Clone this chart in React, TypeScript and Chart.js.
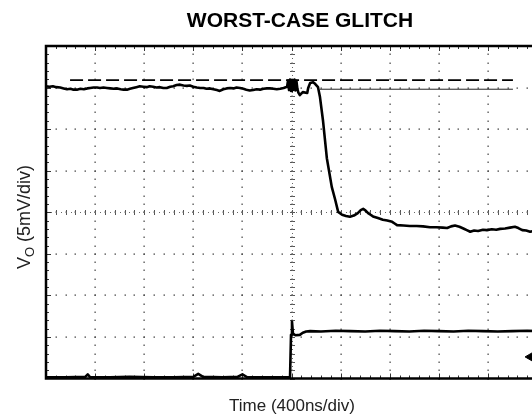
import { useEffect, useRef } from "react";
import { Chart, registerables } from "chart.js";

Chart.register(...registerables);

// ---- text ----
const TITLE = "WORST-CASE GLITCH";
const X_LABEL = "Time (400ns/div)";
const Y_LABEL_MAIN = "V";
const Y_LABEL_SUB = "O";
const Y_LABEL_REST = " (5mV/div)";

// ---- scope grid (divisions) ----
const X_DIVS = 10;
const Y_DIVS = 8;
const MINOR_PER_DIV = 5;

// ---- output trace (top, in divisions) ----
const outX = [
  0.0, 0.07, 0.14, 0.21, 0.29, 0.36, 0.43, 0.5, 0.56, 0.63, 0.7, 0.77, 0.84, 0.9, 0.97,
  1.04, 1.1, 1.17, 1.24, 1.31, 1.38, 1.45, 1.52, 1.58, 1.65, 1.71, 1.77, 1.84, 1.91, 1.98,
  2.05, 2.11, 2.18, 2.25, 2.32, 2.39, 2.46, 2.53, 2.59, 2.66, 2.73, 2.8, 2.87, 2.93, 3.0,
  3.07, 3.14, 3.21, 3.27, 3.34, 3.41, 3.48, 3.54, 3.61, 3.68, 3.75, 3.82, 3.88, 3.95, 4.02,
  4.08, 4.15, 4.22, 4.29, 4.36, 4.43, 4.5, 4.56, 4.63, 4.7, 4.77, 4.84, 4.91,
  4.93, 4.95, 4.97, 4.99, 5.01, 5.04, 5.06, 5.08, 5.1, 5.12, 5.14, 5.17, 5.23, 5.32, 5.34,
  5.38, 5.44, 5.48, 5.54, 5.58, 5.64, 5.72, 5.82, 5.89, 5.95, 6.03, 6.11, 6.19, 6.27, 6.35,
  6.41, 6.46, 6.51, 6.56, 6.61, 6.66, 6.76, 6.86, 6.95, 7.05, 7.1, 7.15, 7.28, 7.41, 7.55,
  7.68, 7.82, 7.95, 8.08, 8.17, 8.25, 8.33, 8.42, 8.5, 8.57, 8.64, 8.72, 8.8, 8.9, 8.98,
  9.08, 9.17, 9.25, 9.35, 9.45, 9.55, 9.62, 9.7, 9.78, 9.86, 9.93, 10.0,
];
const outY = [
  7.03, 7.02, 7.03, 7.01, 7.0, 6.98, 6.96, 6.97, 6.95, 6.95, 6.97, 6.96, 6.98, 6.99, 7.0,
  7.0, 6.99, 7.0, 6.99, 6.98, 6.97, 6.98, 6.96, 6.95, 6.95, 6.97, 6.99, 7.01, 7.03, 7.02,
  7.01, 7.03, 7.02, 7.0, 7.01, 6.99, 6.99, 7.02, 7.03, 7.06, 7.07, 7.05, 7.04, 7.05, 7.02,
  7.0, 6.99, 6.99, 6.97, 6.98, 6.96, 6.94, 6.92, 6.96, 6.98, 6.99, 6.98, 7.0, 6.99, 6.97,
  6.95, 6.93, 6.94, 6.96, 6.95, 6.97, 6.98, 6.98, 6.97, 6.96, 6.97, 6.99, 7.02,
  7.17, 6.94, 7.19, 6.92, 7.18, 6.95, 7.19, 6.93, 7.16, 6.97, 6.88, 6.82, 6.89, 6.87, 6.99,
  7.11, 7.13, 7.09, 7.01, 6.77, 6.22, 5.3, 4.61, 4.3, 4.01, 3.94, 3.91, 3.89, 3.92, 3.98,
  4.05, 4.08, 4.04, 3.98, 3.94, 3.9, 3.86, 3.82, 3.8, 3.77, 3.73, 3.69, 3.68, 3.67, 3.67,
  3.66, 3.64, 3.64, 3.63, 3.62, 3.66, 3.68, 3.65, 3.61, 3.57, 3.53, 3.56, 3.55, 3.58, 3.57,
  3.59, 3.58, 3.6, 3.61, 3.63, 3.65, 3.62, 3.57, 3.56, 3.53, 3.55, 3.55,
];

// ---- step trace (bottom, in divisions) ----
const stepX = [
  0.0, 0.4, 0.8, 0.85, 0.9, 1.3, 1.7, 2.2, 2.6, 3.0, 3.1, 3.2, 3.6, 3.9, 4.0, 4.1, 4.5, 4.97,
  4.99, 5.01, 5.03, 5.08, 5.17, 5.23, 5.3, 5.38, 5.6, 5.9, 6.2, 6.5, 6.8, 7.1, 7.4, 7.7, 8.0,
  8.3, 8.6, 8.9, 9.2, 9.5, 9.8, 10.0,
];
const stepY = [
  0.03, 0.03, 0.04, 0.1, 0.03, 0.03, 0.04, 0.03, 0.03, 0.04, 0.11, 0.04, 0.03, 0.04, 0.1, 0.03, 0.03, 0.03,
  1.05, 1.37, 1.08, 1.04, 1.05, 1.1, 1.13, 1.14, 1.13, 1.15, 1.14, 1.13, 1.15, 1.14, 1.13, 1.15, 1.14,
  1.13, 1.15, 1.14, 1.13, 1.14, 1.15, 1.14,
];

// ---- reference lines ----
const dashRefX = [0.49, 9.51];
const dashRefY = [7.18, 7.18];
const thinRefX = [5.58, 9.51];
const thinRefY = [6.96, 6.96];

// ---- ground marker ----
const markerX = [9.88];
const markerY = [0.52];

const FONT = '"Liberation Sans", Arial, Helvetica, sans-serif';

const toPts = (xs: number[], ys: number[]) => xs.map((x, i) => ({ x, y: ys[i] }));

const scopeGrid = {
  id: "scopeGrid",
  beforeDatasetsDraw(chart: any) {
    const { ctx, chartArea: a, scales } = chart;
    const x = scales.x;
    const y = scales.y;
    ctx.save();
    ctx.fillStyle = "#444";
    const nMinorY = Y_DIVS * MINOR_PER_DIV;
    const nMinorX = X_DIVS * MINOR_PER_DIV;
    // dotted division lines
    for (let i = 1; i < X_DIVS; i++) {
      const px = Math.round(x.getPixelForValue(i));
      for (let k = 0; k <= nMinorY; k++) {
        const py = Math.round(y.getPixelForValue(k / MINOR_PER_DIV));
        ctx.fillRect(px - 0.5, py - 0.5, 1.2, 1.5);
      }
    }
    for (let j = 1; j < Y_DIVS; j++) {
      const py = Math.round(y.getPixelForValue(j));
      for (let k = 0; k <= nMinorX; k++) {
        const px = Math.round(x.getPixelForValue(k / MINOR_PER_DIV));
        ctx.fillRect(px - 0.5, py - 0.5, 1.5, 1.2);
      }
    }
    // centre cross with minor ticks
    ctx.strokeStyle = "#555";
    ctx.lineWidth = 1;
    const cx = Math.round(x.getPixelForValue(X_DIVS / 2)) + 0.5;
    const cy = Math.round(y.getPixelForValue(Y_DIVS / 2)) + 0.5;
    ctx.beginPath();
    for (let k = 0; k <= nMinorY; k++) {
      const py = Math.round(y.getPixelForValue(k / MINOR_PER_DIV)) + 0.5;
      ctx.moveTo(cx - 2.5, py);
      ctx.lineTo(cx + 2.5, py);
    }
    for (let k = 0; k <= nMinorX; k++) {
      const px = Math.round(x.getPixelForValue(k / MINOR_PER_DIV)) + 0.5;
      ctx.moveTo(px, cy - 2.5);
      ctx.lineTo(px, cy + 2.5);
    }
    ctx.stroke();
    ctx.fillStyle = "#666";
    for (let k = 0; k < nMinorY * 2; k++) {
      const py = Math.round(y.getPixelForValue(k / (MINOR_PER_DIV * 2)));
      ctx.fillRect(cx - 0.5, py, 1, 1);
    }
    for (let k = 0; k < nMinorX * 2; k++) {
      const px = Math.round(x.getPixelForValue(k / (MINOR_PER_DIV * 2)));
      ctx.fillRect(px, cy - 0.5, 1, 1);
    }
    // frame ticks
    ctx.strokeStyle = "#333";
    ctx.beginPath();
    for (let k = 1; k < nMinorX; k++) {
      const px = Math.round(x.getPixelForValue(k / MINOR_PER_DIV)) + 0.5;
      const len = k % MINOR_PER_DIV === 0 ? 5 : 3;
      ctx.moveTo(px, a.top);
      ctx.lineTo(px, a.top + len);
      ctx.moveTo(px, a.bottom);
      ctx.lineTo(px, a.bottom - len);
    }
    for (let k = 1; k < nMinorY; k++) {
      const py = Math.round(y.getPixelForValue(k / MINOR_PER_DIV)) + 0.5;
      const len = k % MINOR_PER_DIV === 0 ? 5 : 3;
      ctx.moveTo(a.left, py);
      ctx.lineTo(a.left + len, py);
    }
    ctx.stroke();
    ctx.restore();
  },
  afterDatasetsDraw(chart: any) {
    const { ctx, chartArea: a } = chart;
    ctx.save();
    ctx.strokeStyle = "#000";
    ctx.lineWidth = 2.5;
    ctx.strokeRect(a.left, a.top, a.right - a.left, a.bottom - a.top);
    ctx.restore();
  },
  afterDraw(chart: any) {
    const { ctx } = chart;
    ctx.save();
    ctx.fillStyle = "#000";
    ctx.textBaseline = "alphabetic";
    ctx.textAlign = "center";
    ctx.font = `bold 21px ${FONT}`;
    ctx.fillText(TITLE, 300, 27);
    ctx.fillStyle = "#222";
    ctx.font = `17px ${FONT}`;
    ctx.fillText(X_LABEL, 292, 411);
    // rotated y label with subscript
    ctx.translate(30, 217);
    ctx.rotate(-Math.PI / 2);
    const mainFont = `18px ${FONT}`;
    const subFont = `13px ${FONT}`;
    ctx.font = mainFont;
    const w1 = ctx.measureText(Y_LABEL_MAIN).width;
    const w3 = ctx.measureText(Y_LABEL_REST).width;
    ctx.font = subFont;
    const w2 = ctx.measureText(Y_LABEL_SUB).width;
    const total = w1 + w2 + w3;
    let cur = -total / 2;
    ctx.textAlign = "left";
    ctx.font = mainFont;
    ctx.fillText(Y_LABEL_MAIN, cur, 0);
    cur += w1;
    ctx.font = subFont;
    ctx.fillText(Y_LABEL_SUB, cur, 4);
    cur += w2;
    ctx.font = mainFont;
    ctx.fillText(Y_LABEL_REST, cur, 0);
    ctx.restore();
  },
};

export default function App() {
  const ref = useRef<HTMLCanvasElement | null>(null);
  useEffect(() => {
    if (!ref.current) return;
    const chart = new Chart(ref.current, {
      type: "line",
      data: {
        datasets: [
          {
            label: "VO",
            data: toPts(outX, outY),
            borderColor: "#000",
            borderWidth: 2.6,
            pointRadius: 0,
            tension: 0,
            borderJoinStyle: "round",
          },
          {
            label: "Step",
            data: toPts(stepX, stepY),
            borderColor: "#000",
            borderWidth: 2.6,
            pointRadius: 0,
            tension: 0,
            borderJoinStyle: "round",
          },
          {
            label: "Ref dashed",
            data: toPts(dashRefX, dashRefY),
            borderColor: "#000",
            borderWidth: 1.6,
            borderDash: [13, 5],
            pointRadius: 0,
          },
          {
            label: "Ref thin",
            data: toPts(thinRefX, thinRefY),
            borderColor: "#222",
            borderWidth: 1,
            pointRadius: 0,
          },
          {
            label: "Ground",
            data: toPts(markerX, markerY),
            showLine: false,
            pointStyle: "triangle",
            rotation: -90,
            pointRadius: 6,
            backgroundColor: "#000",
            borderColor: "#000",
            borderWidth: 1,
            clip: false as any,
          },
        ],
      },
      options: {
        responsive: false,
        animation: false,
        layout: { padding: { left: 46, top: 46, right: 13, bottom: 38.5 } },
        scales: {
          x: { type: "linear", min: 0, max: X_DIVS, display: false },
          y: { type: "linear", min: 0, max: Y_DIVS, display: false },
        },
        plugins: {
          legend: { display: false },
          tooltip: { enabled: false },
          title: { display: false },
        },
      },
      plugins: [scopeGrid],
    });
    return () => chart.destroy();
  }, []);
  return (
    <div
      style={{
        position: "fixed",
        left: 0,
        top: 0,
        width: 532,
        height: 417,
        overflow: "hidden",
        background: "#fff",
      }}
    >
      <canvas ref={ref} width={550} height={417} style={{ display: "block" }} />
    </div>
  );
}
